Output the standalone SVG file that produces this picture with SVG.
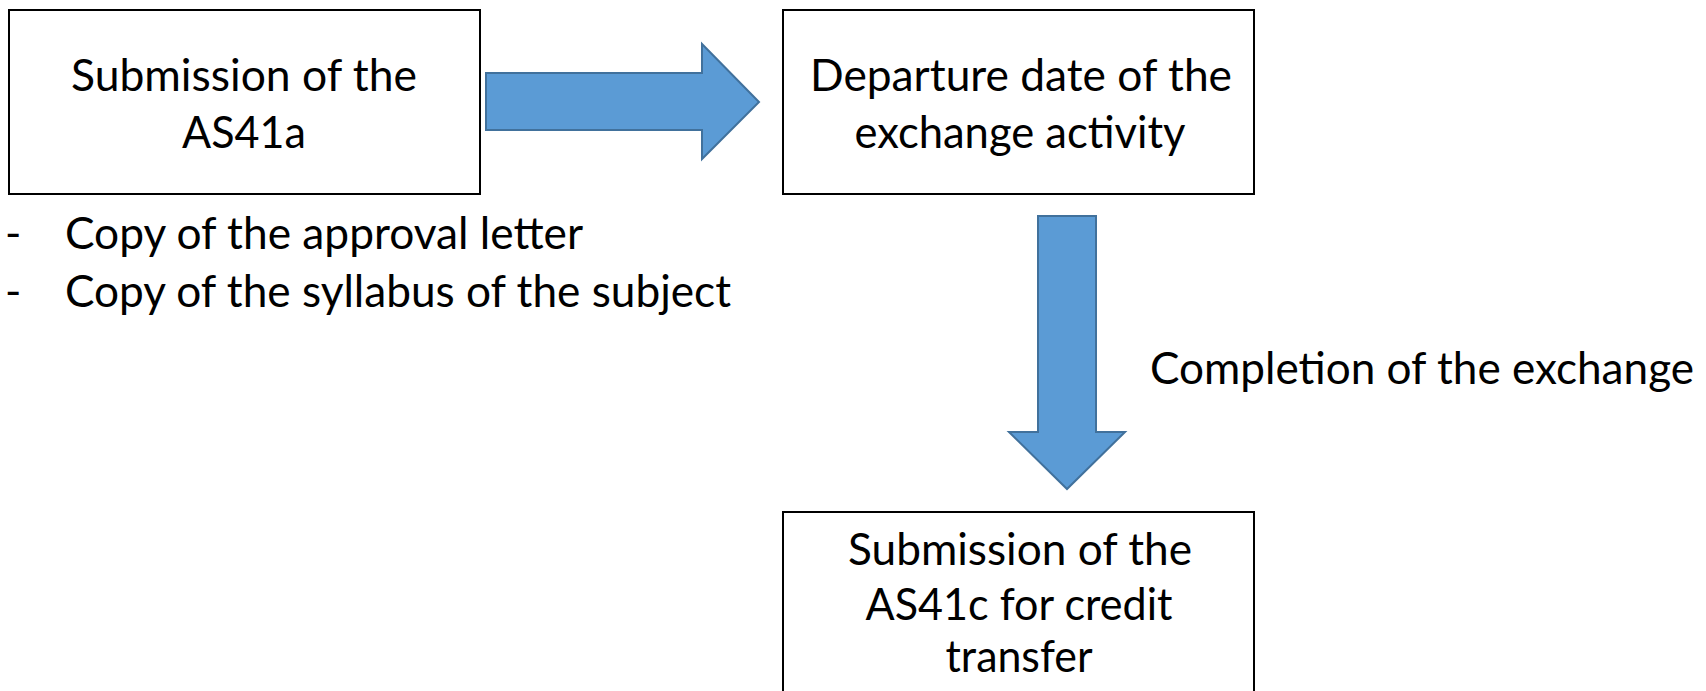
<svg xmlns="http://www.w3.org/2000/svg" width="1706" height="691" viewBox="0 0 1706 691">
  <style>
    .box { fill: #ffffff; stroke: #000000; stroke-width: 2; }
    .arrow { fill: #5B9BD5; stroke: #41719C; stroke-width: 2; stroke-linejoin: miter; }
    .t { font-family: Lato, "Open Sans", "Liberation Sans", sans-serif; font-size: 44px; fill: #000000; }
    .c { text-anchor: middle; }
  </style>
  <rect width="1706" height="691" fill="#ffffff"/>
  <g id="connectors">
    <polygon class="arrow" points="486,73 702,73 702,44 759,102 702,159 702,130 486,130"/>
    <polygon class="arrow" points="1038,216 1096,216 1096,432 1125,432 1067,489 1009,432 1038,432"/>
    <text class="t" x="1150" y="384" textLength="544" lengthAdjust="spacingAndGlyphs">Completion of the exchange</text>
  </g>
  <g id="node-as41a">
    <rect class="box" x="9" y="10" width="471" height="184"/>
    <text class="t c" x="244" y="91" textLength="346" lengthAdjust="spacingAndGlyphs">Submission of the</text>
    <text class="t c" x="244" y="148" textLength="124" lengthAdjust="spacingAndGlyphs">AS41a</text>
  </g>
  <g id="node-departure">
    <rect class="box" x="783" y="10" width="471" height="184"/>
    <text class="t c" x="1021" y="91" textLength="422" lengthAdjust="spacingAndGlyphs">Departure date of the</text>
    <text class="t c" x="1020" y="148" textLength="331" lengthAdjust="spacingAndGlyphs">exchange activity</text>
  </g>
  <g id="node-as41c">
    <rect class="box" x="783" y="512" width="471" height="200"/>
    <text class="t c" x="1020" y="565" textLength="344" lengthAdjust="spacingAndGlyphs">Submission of the</text>
    <text class="t c" x="1019" y="620" textLength="307" lengthAdjust="spacingAndGlyphs">AS41c for credit</text>
    <text class="t c" x="1019" y="672" textLength="147" lengthAdjust="spacingAndGlyphs">transfer</text>
  </g>
  <g id="notes">
    <text class="t" x="5" y="249">-</text>
    <text class="t" x="65" y="249" textLength="518" lengthAdjust="spacingAndGlyphs">Copy of the approval letter</text>
    <text class="t" x="5" y="307">-</text>
    <text class="t" x="65" y="307" textLength="666" lengthAdjust="spacingAndGlyphs">Copy of the syllabus of the subject</text>
  </g>
</svg>
